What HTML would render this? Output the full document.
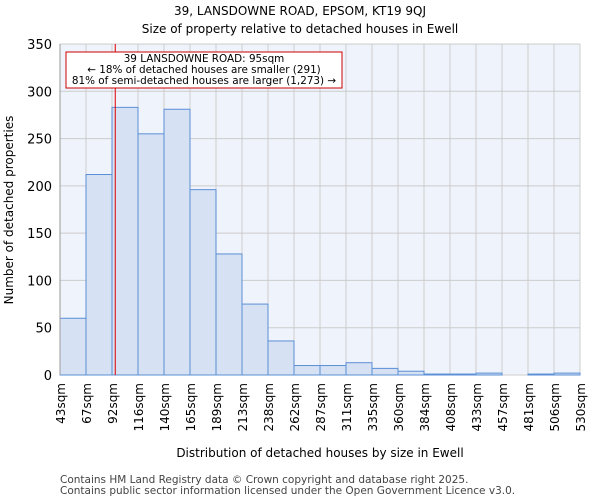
<!DOCTYPE html>
<html><head><meta charset="utf-8"><style>
body{margin:0;background:#fff;font-family:"DejaVu Sans","Liberation Sans",sans-serif}
</style></head><body>
<svg width="600" height="500" xmlns="http://www.w3.org/2000/svg" font-family="DejaVu Sans, Liberation Sans, sans-serif">
<text x="300" y="15" text-anchor="middle" font-size="12">39, LANSDOWNE ROAD, EPSOM, KT19 9QJ</text>
<text x="300" y="33" text-anchor="middle" font-size="12">Size of property relative to detached houses in Ewell</text>
<rect x="60" y="44" width="520" height="331" fill="#eff3fb"/>
<g id="grid"></g><g id="bars"></g><g id="axes"></g>
<rect x="66" y="52" width="276" height="36" fill="#fff" stroke="#cc0000" stroke-width="1"/>
<text x="204" y="62" text-anchor="middle" font-size="10.4">39 LANSDOWNE ROAD: 95sqm</text>
<text x="204" y="73" text-anchor="middle" font-size="10.4">← 18% of detached houses are smaller (291)</text>
<text x="204" y="84" text-anchor="middle" font-size="10.4">81% of semi-detached houses are larger (1,273) →</text>
<text x="320" y="457" text-anchor="middle" font-size="12">Distribution of detached houses by size in Ewell</text>
<text transform="translate(13,210) rotate(-90)" text-anchor="middle" font-size="12">Number of detached properties</text>
<text x="60" y="483" font-size="10.5" fill="#444">Contains HM Land Registry data © Crown copyright and database right 2025.</text>
<text x="60" y="494" font-size="10.5" fill="#444">Contains public sector information licensed under the Open Government Licence v3.0.</text>
</svg>
<script>
const binLabels=["43sqm","67sqm","92sqm","116sqm","140sqm","165sqm","189sqm","213sqm","238sqm","262sqm","287sqm","311sqm","335sqm","360sqm","384sqm","408sqm","433sqm","457sqm","481sqm","506sqm","530sqm"];
const binEdges=[43,67,92,116,140,165,189,213,238,262,287,311,335,360,384,408,433,457,481,506,530];
const counts=[60,212,283,255,281,196,128,75,36,10,10,13,7,4,1,1,2,0,1,2];
const yTicks=[0,50,100,150,200,250,300,350];
const markerValue=95;
const NS="http://www.w3.org/2000/svg";
const X0=60,X1=580,Y0=375,Y1=44,YMAX=350;
const nb=binEdges.length-1;
const xi=i=>X0+(X1-X0)*i/nb;
const y=v=>Y0-(Y0-Y1)*v/YMAX;
function xv(v){for(let i=0;i<nb;i++){if(v<=binEdges[i+1])return xi(i)+(v-binEdges[i])/(binEdges[i+1]-binEdges[i])*(xi(i+1)-xi(i));}return X1;}
function mk(t,a,p){const e=document.createElementNS(NS,t);for(const k in a)e.setAttribute(k,a[k]);p.appendChild(e);return e;}
const grid=document.getElementById('grid'),bars=document.getElementById('bars'),axes=document.getElementById('axes');
yTicks.forEach(t=>{
 const l=mk('line',{x1:X0,x2:X1,y1:y(t),y2:y(t),stroke:'#cccccc','stroke-width':1},grid);
 
 
 const tx=mk('text',{x:X0-8,y:y(t)+5,'text-anchor':'end','font-size':13},axes);tx.textContent=t;
 
 
});
binLabels.forEach((s,i)=>{
 const l=mk('line',{x1:xi(i),x2:xi(i),y1:Y1,y2:Y0,stroke:'#cccccc','stroke-width':1},grid);
 
 
 const tx=mk('text',{transform:`translate(${xi(i)+5},${Y0+8}) rotate(-90)`,'text-anchor':'end','font-size':12},axes);tx.textContent=s;
 
 
});
for(let i=0;i<nb;i++){
 if(counts[i]<=0)continue;
 const r=mk('rect',{x:xi(i),y:y(counts[i]),width:xi(i+1)-xi(i),height:Y0-y(counts[i]),fill:'#d6e1f3',stroke:'#5b8fd6','stroke-width':1},bars);
 
 
}
const ml=mk('line',{x1:xv(markerValue),x2:xv(markerValue),y1:Y1,y2:Y0,stroke:'#dd0000','stroke-width':1},axes);


const ax=mk('line',{x1:X0,x2:X0,y1:Y1,y2:Y0,stroke:'#999','stroke-width':1},axes);


</script>
</body></html>
